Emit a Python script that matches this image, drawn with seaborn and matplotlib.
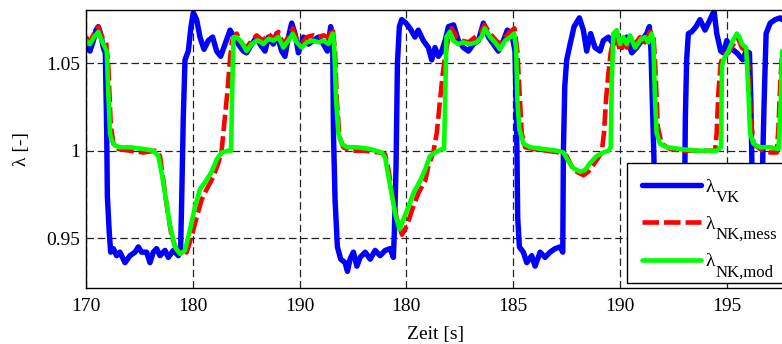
import pandas as pd
import matplotlib
matplotlib.use("Agg")
import matplotlib.pyplot as plt
from matplotlib.patches import Rectangle
from matplotlib.transforms import IdentityTransform
import seaborn as sns

# x in tick units (0..6), tick labels as printed on the original axis
tick_labels = ["170", "180", "190", "180", "185", "190", "195"]
ytick_values = [0.95, 1.0, 1.05]
ytick_labels = ["0.95", "1", "1.05"]
legend_subscripts = ["VK", "NK,mess", "NK,mod"]

# lambda before catalyst (VK)
lambda_vk = [
    (0.000, 1.059), (0.037, 1.057), (0.069, 1.063), (0.094, 1.069), (0.115, 1.071), (0.137, 1.067),
    (0.162, 1.059), (0.181, 1.056), (0.194, 1.010), (0.200, 0.974), (0.218, 0.953), (0.231, 0.942),
    (0.256, 0.944), (0.287, 0.940), (0.318, 0.942), (0.365, 0.936), (0.412, 0.940), (0.459, 0.942),
    (0.490, 0.945), (0.521, 0.942), (0.568, 0.942), (0.599, 0.936), (0.630, 0.942), (0.661, 0.944),
    (0.693, 0.940), (0.740, 0.943), (0.771, 0.939), (0.818, 0.943), (0.865, 0.940), (0.886, 0.944),
    (0.896, 0.972), (0.911, 1.019), (0.927, 1.052), (0.958, 1.057), (0.983, 1.071), (1.005, 1.079),
    (1.036, 1.075), (1.067, 1.065), (1.105, 1.058), (1.145, 1.063), (1.186, 1.065), (1.223, 1.057),
    (1.261, 1.054), (1.302, 1.061), (1.349, 1.069), (1.386, 1.065), (1.426, 1.061), (1.473, 1.057),
    (1.504, 1.056), (1.551, 1.061), (1.598, 1.065), (1.629, 1.061), (1.676, 1.057), (1.708, 1.065),
    (1.754, 1.061), (1.786, 1.067), (1.832, 1.057), (1.863, 1.054), (1.895, 1.065), (1.926, 1.073),
    (1.957, 1.067), (1.989, 1.056), (2.036, 1.065), (2.082, 1.061), (2.129, 1.063), (2.176, 1.065),
    (2.223, 1.061), (2.260, 1.057), (2.291, 1.071), (2.310, 1.061), (2.317, 1.010), (2.332, 0.972),
    (2.354, 0.945), (2.385, 0.938), (2.426, 0.936), (2.448, 0.931), (2.472, 0.938), (2.504, 0.942),
    (2.536, 0.934), (2.567, 0.939), (2.614, 0.942), (2.661, 0.938), (2.707, 0.943), (2.754, 0.940),
    (2.801, 0.943), (2.848, 0.944), (2.878, 0.939), (2.887, 0.953), (2.903, 0.991), (2.916, 1.050),
    (2.934, 1.071), (2.956, 1.075), (2.996, 1.073), (3.034, 1.070), (3.080, 1.065), (3.111, 1.069),
    (3.158, 1.063), (3.206, 1.059), (3.237, 1.052), (3.268, 1.059), (3.300, 1.054), (3.331, 1.057),
    (3.363, 1.063), (3.394, 1.071), (3.441, 1.072), (3.487, 1.063), (3.534, 1.059), (3.581, 1.057),
    (3.628, 1.061), (3.674, 1.063), (3.721, 1.073), (3.768, 1.065), (3.815, 1.061), (3.861, 1.057),
    (3.908, 1.063), (3.945, 1.069), (3.986, 1.067), (4.017, 1.057), (4.033, 1.010), (4.042, 0.962),
    (4.058, 0.945), (4.095, 0.942), (4.127, 0.936), (4.173, 0.940), (4.205, 0.934), (4.252, 0.942),
    (4.298, 0.939), (4.345, 0.942), (4.392, 0.944), (4.439, 0.945), (4.464, 0.942), (4.470, 1.000),
    (4.483, 1.037), (4.501, 1.052), (4.533, 1.061), (4.570, 1.071), (4.620, 1.076), (4.657, 1.069),
    (4.688, 1.057), (4.725, 1.067), (4.766, 1.059), (4.813, 1.057), (4.844, 1.063), (4.891, 1.065),
    (4.938, 1.061), (4.969, 1.067), (5.016, 1.059), (5.063, 1.065), (5.110, 1.056), (5.156, 1.059),
    (5.203, 1.063), (5.250, 1.067), (5.275, 1.071), (5.290, 1.057), (5.303, 1.029), (5.318, 0.995),
    (5.331, 0.945), (5.375, 0.940), (5.469, 0.942), (5.562, 0.940), (5.600, 0.943), (5.612, 1.019),
    (5.624, 1.052), (5.640, 1.067), (5.671, 1.068), (5.712, 1.071), (5.749, 1.075), (5.796, 1.069),
    (5.843, 1.075), (5.881, 1.080), (5.906, 1.067), (5.943, 1.057), (5.968, 1.056), (6.000, 1.063),
    (6.031, 1.059), (6.094, 1.056), (6.150, 1.052), (6.181, 1.057), (6.212, 1.056), (6.225, 1.029),
    (6.234, 0.997), (6.250, 0.945), (6.297, 0.942), (6.328, 0.943), (6.337, 0.997), (6.350, 1.029),
    (6.368, 1.067), (6.406, 1.073), (6.453, 1.075), (6.500, 1.076), (6.518, 1.075),
]

# lambda after catalyst, measured
lambda_nk_mess = [
    (0.000, 1.065), (0.037, 1.062), (0.075, 1.067), (0.115, 1.071), (0.147, 1.065), (0.187, 1.063),
    (0.209, 1.048), (0.231, 1.016), (0.256, 1.004), (0.303, 1.001), (0.412, 1.000), (0.537, 0.999),
    (0.646, 1.000), (0.693, 0.997), (0.724, 0.983), (0.762, 0.966), (0.802, 0.951), (0.849, 0.943),
    (0.896, 0.941), (0.943, 0.942), (0.989, 0.951), (1.036, 0.962), (1.083, 0.972), (1.130, 0.978),
    (1.192, 0.985), (1.239, 0.993), (1.270, 1.000), (1.292, 1.014), (1.323, 1.033), (1.348, 1.052),
    (1.367, 1.063), (1.411, 1.067), (1.458, 1.061), (1.504, 1.059), (1.551, 1.063), (1.598, 1.066),
    (1.614, 1.065), (1.661, 1.063), (1.708, 1.067), (1.754, 1.064), (1.801, 1.068), (1.848, 1.061),
    (1.895, 1.065), (1.935, 1.070), (1.973, 1.064), (2.020, 1.061), (2.067, 1.065), (2.129, 1.066),
    (2.176, 1.065), (2.223, 1.066), (2.270, 1.065), (2.310, 1.070), (2.332, 1.057), (2.348, 1.029),
    (2.373, 1.008), (2.410, 1.002), (2.473, 1.000), (2.598, 1.000), (2.754, 0.999), (2.801, 0.998),
    (2.833, 0.989), (2.864, 0.976), (2.911, 0.961), (2.958, 0.952), (3.005, 0.957), (3.052, 0.966),
    (3.114, 0.976), (3.177, 0.983), (3.205, 0.991), (3.252, 0.999), (3.284, 1.010), (3.315, 1.029),
    (3.340, 1.044), (3.363, 1.054), (3.394, 1.065), (3.425, 1.070), (3.472, 1.065), (3.519, 1.063),
    (3.581, 1.062), (3.644, 1.065), (3.691, 1.067), (3.731, 1.072), (3.784, 1.067), (3.840, 1.063),
    (3.877, 1.061), (3.924, 1.065), (3.971, 1.068), (4.012, 1.070), (4.039, 1.057), (4.058, 1.035),
    (4.080, 1.010), (4.111, 1.002), (4.190, 1.001), (4.314, 1.000), (4.439, 0.999), (4.501, 0.997),
    (4.548, 0.991), (4.595, 0.988), (4.658, 0.986), (4.704, 0.988), (4.751, 0.992), (4.797, 0.996),
    (4.828, 0.999), (4.850, 1.010), (4.869, 1.029), (4.891, 1.044), (4.913, 1.056), (4.938, 1.063),
    (4.969, 1.065), (5.000, 1.057), (5.031, 1.062), (5.063, 1.059), (5.094, 1.064), (5.141, 1.061),
    (5.188, 1.065), (5.234, 1.062), (5.281, 1.068), (5.312, 1.067), (5.331, 1.048), (5.353, 1.014),
    (5.390, 1.004), (5.469, 1.001), (5.593, 1.000), (5.780, 1.000), (5.890, 1.000), (5.905, 1.010),
    (5.921, 1.033), (5.943, 1.050), (5.968, 1.055), (6.015, 1.056), (6.062, 1.061), (6.100, 1.065),
    (6.141, 1.059), (6.181, 1.057), (6.203, 1.048), (6.225, 1.018), (6.250, 1.004), (6.312, 1.001),
    (6.406, 0.999), (6.468, 0.999), (6.484, 1.014), (6.500, 1.038), (6.518, 1.056),
]

# lambda after catalyst, model
lambda_nk_mod = [
    (0.000, 1.063), (0.037, 1.061), (0.075, 1.065), (0.115, 1.068), (0.147, 1.063), (0.178, 1.059),
    (0.194, 1.057), (0.209, 1.033), (0.225, 1.010), (0.240, 1.006), (0.271, 1.003), (0.318, 1.002),
    (0.412, 1.002), (0.537, 1.001), (0.630, 1.000), (0.677, 0.997), (0.709, 0.987), (0.749, 0.972),
    (0.787, 0.957), (0.833, 0.945), (0.880, 0.941), (0.927, 0.943), (0.974, 0.955), (1.021, 0.968),
    (1.067, 0.978), (1.114, 0.982), (1.177, 0.988), (1.223, 0.995), (1.270, 0.999), (1.333, 1.000),
    (1.358, 1.000), (1.367, 1.029), (1.380, 1.065), (1.411, 1.065), (1.458, 1.062), (1.504, 1.057),
    (1.551, 1.061), (1.598, 1.063), (1.614, 1.063), (1.661, 1.061), (1.708, 1.064), (1.754, 1.063),
    (1.801, 1.065), (1.848, 1.059), (1.895, 1.063), (1.935, 1.067), (1.973, 1.062), (2.020, 1.059),
    (2.067, 1.062), (2.129, 1.063), (2.176, 1.062), (2.223, 1.063), (2.270, 1.061), (2.310, 1.067),
    (2.323, 1.061), (2.342, 1.029), (2.363, 1.010), (2.395, 1.004), (2.441, 1.002), (2.536, 1.002),
    (2.661, 1.001), (2.770, 0.999), (2.801, 0.996), (2.833, 0.985), (2.864, 0.974), (2.895, 0.964),
    (2.936, 0.955), (2.973, 0.961), (3.020, 0.968), (3.067, 0.976), (3.130, 0.983), (3.180, 0.990),
    (3.221, 0.997), (3.268, 0.999), (3.331, 1.001), (3.353, 1.001), (3.363, 1.029), (3.375, 1.065),
    (3.406, 1.068), (3.438, 1.063), (3.484, 1.061), (3.531, 1.062), (3.594, 1.061), (3.656, 1.062),
    (3.702, 1.065), (3.734, 1.070), (3.784, 1.065), (3.831, 1.062), (3.877, 1.058), (3.924, 1.063),
    (3.971, 1.065), (4.008, 1.067), (4.027, 1.059), (4.039, 1.029), (4.058, 1.012), (4.096, 1.004),
    (4.158, 1.002), (4.283, 1.001), (4.408, 1.000), (4.470, 0.999), (4.517, 0.994), (4.564, 0.990),
    (4.627, 0.988), (4.673, 0.989), (4.720, 0.993), (4.782, 0.997), (4.844, 0.999), (4.891, 1.000),
    (4.913, 1.002), (4.922, 1.038), (4.938, 1.067), (4.969, 1.069), (5.000, 1.061), (5.031, 1.065),
    (5.063, 1.061), (5.094, 1.066), (5.141, 1.059), (5.188, 1.063), (5.234, 1.065), (5.265, 1.062),
    (5.296, 1.067), (5.312, 1.063), (5.328, 1.029), (5.343, 1.010), (5.375, 1.004), (5.437, 1.002),
    (5.562, 1.001), (5.718, 1.000), (5.905, 1.000), (5.946, 1.002), (5.955, 1.048), (5.968, 1.052),
    (6.015, 1.057), (6.056, 1.063), (6.094, 1.067), (6.119, 1.065), (6.141, 1.061), (6.181, 1.059),
    (6.203, 1.033), (6.218, 1.010), (6.250, 1.004), (6.312, 1.002), (6.406, 1.002), (6.484, 1.001),
    (6.506, 1.029), (6.518, 1.057),
]

sns.set_theme(style="white")
plt.rcParams["font.family"] = ["Liberation Serif", "DejaVu Serif"]


def to_frame(pairs):
    return pd.DataFrame(pairs, columns=["t", "lam"])


fig = plt.figure(figsize=(7.82, 3.44), dpi=100)
# axes runs a little past the right edge of the picture, like the original crop
ax = fig.add_axes([86 / 782, 56 / 344, 699 / 782, 278 / 344])

sns.lineplot(data=to_frame(lambda_vk), x="t", y="lam", ax=ax, color="#0000ff",
             linewidth=3.9, sort=False, estimator=None, label="λ")
sns.lineplot(data=to_frame(lambda_nk_mess), x="t", y="lam", ax=ax, color="#ff0000",
             linewidth=3.3, linestyle=(0, (3.6, 1.1)), sort=False, estimator=None, label="λ")
sns.lineplot(data=to_frame(lambda_nk_mod), x="t", y="lam", ax=ax, color="#00ff00",
             linewidth=3.3, sort=False, estimator=None, label="λ")

ax.set_xlim(0, 699 / 106.8)
ax.set_ylim(0.9215, 1.0805)
ax.set_xticks(range(len(tick_labels)))
ax.set_xticklabels(tick_labels)
ax.set_yticks(ytick_values)
ax.set_yticklabels(ytick_labels)

ax.set_axisbelow(True)
ax.grid(True, color="#222222", linestyle=(0, (6, 3)), linewidth=0.9)
for sp in ax.spines.values():
    sp.set_color("black")
    sp.set_linewidth(1.0)
ax.tick_params(direction="in", length=3, colors="black", labelsize=14)
ax.tick_params(axis="x", pad=7)
ax.tick_params(axis="y", pad=4)

ax.set_xlabel("Zeit [s]", fontsize=14, color="black", labelpad=8)
ax.set_ylabel("λ [-]", fontsize=14, color="black", labelpad=12)

# legend box runs off the right edge of the picture as in the original
ax.add_patch(Rectangle((0.774, 0.018), 0.4, 0.432, transform=ax.transAxes,
                       facecolor="white", edgecolor="black", linewidth=1.0, zorder=4.5))
leg = ax.legend(loc="upper left", bbox_to_anchor=(0.774, 0.45), borderaxespad=0,
                fontsize=14, handlelength=3.0, handletextpad=0.25, labelspacing=1.01,
                frameon=False, borderpad=0.79)
for t in leg.get_texts():
    t.set_color("black")

# MATLAB-style subscripts (nearly full size) next to each lambda
fig.canvas.draw()
renderer = fig.canvas.get_renderer()
for t, sub in zip(leg.get_texts(), legend_subscripts):
    bb = t.get_window_extent(renderer)
    _, _, d = renderer.get_text_width_height_descent("lp", t.get_fontproperties(), ismath=False)
    fig.text(bb.x1 + 0.5, bb.y0 + d - 10, sub, transform=IdentityTransform(),
             fontsize=12, ha="left", va="baseline", color="black")

fig.savefig("out.png", dpi=100)
